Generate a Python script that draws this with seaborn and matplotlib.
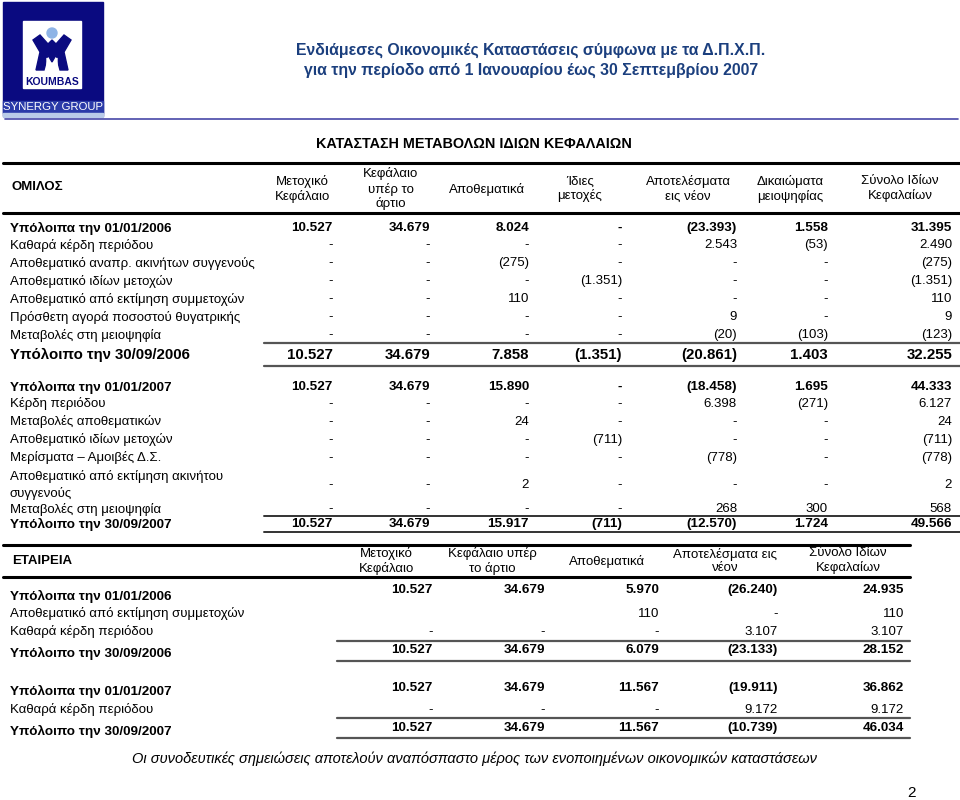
import numpy as np
import pandas as pd
import seaborn as sns
import matplotlib.pyplot as plt
from matplotlib.patches import Rectangle, Circle, Polygon

sns.set_theme(style="white")
plt.rcParams["font.family"] = ["Liberation Sans", "DejaVu Sans"]
plt.rcParams["text.color"] = "black"

# ---------------- data ----------------
title_lines = ["Ενδιάμεσες Οικονομικές Καταστάσεις σύμφωνα με τα Δ.Π.Χ.Π.",
               "για την περίοδο από 1 Ιανουαρίου έως 30 Σεπτεμβρίου 2007"]
table_title = "ΚΑΤΑΣΤΑΣΗ ΜΕΤΑΒΟΛΩΝ ΙΔΙΩΝ ΚΕΦΑΛΑΙΩΝ"
footer = "Οι συνοδευτικές σημειώσεις αποτελούν αναπόσπαστο μέρος των ενοποιημένων οικονομικών καταστάσεων"

group_cols = ["Μετοχικό\nΚεφάλαιο", "Κεφάλαιο\nυπέρ το\nάρτιο", "Αποθεματικά", "Ίδιες\nμετοχές",
              "Αποτελέσματα\nεις νέον", "Δικαιώματα\nμειοψηφίας", "Σύνολο Ιδίων\nΚεφαλαίων"]

group_labels_2006 = ["Υπόλοιπα την 01/01/2006", "Καθαρά κέρδη περιόδου",
                     "Αποθεματικό αναπρ. ακινήτων συγγενούς", "Αποθεματικό ιδίων μετοχών",
                     "Αποθεματικό από εκτίμηση συμμετοχών", "Πρόσθετη αγορά ποσοστού θυγατρικής",
                     "Μεταβολές στη μειοψηφία", "Υπόλοιπο την 30/09/2006"]
group_values_2006 = [
    [10527, 34679, 8024, 0, -23393, 1558, 31395],
    [0, 0, 0, 0, 2543, -53, 2490],
    [0, 0, -275, 0, 0, 0, -275],
    [0, 0, 0, -1351, 0, 0, -1351],
    [0, 0, 110, 0, 0, 0, 110],
    [0, 0, 0, 0, 9, 0, 9],
    [0, 0, 0, 0, -20, -103, -123],
    [10527, 34679, 7858, -1351, -20861, 1403, 32255],
]

group_labels_2007 = ["Υπόλοιπα την 01/01/2007", "Κέρδη περιόδου", "Μεταβολές αποθεματικών",
                     "Αποθεματικό ιδίων μετοχών", "Μερίσματα – Αμοιβές Δ.Σ.",
                     "Αποθεματικό από εκτίμηση ακινήτου\nσυγγενούς", "Μεταβολές στη μειοψηφία",
                     "Υπόλοιπο την 30/09/2007"]
group_values_2007 = [
    [10527, 34679, 15890, 0, -18458, 1695, 44333],
    [0, 0, 0, 0, 6398, -271, 6127],
    [0, 0, 24, 0, 0, 0, 24],
    [0, 0, 0, -711, 0, 0, -711],
    [0, 0, 0, 0, -778, 0, -778],
    [0, 0, 2, 0, 0, 0, 2],
    [0, 0, 0, 0, 268, 300, 568],
    [10527, 34679, 15917, -711, -12570, 1724, 49566],
]

company_cols = ["Μετοχικό\nΚεφάλαιο", "Κεφάλαιο υπέρ\nτο άρτιο", "Αποθεματικά",
                "Αποτελέσματα εις\nνέον", "Σύνολο Ιδίων\nΚεφαλαίων"]
company_labels = ["Υπόλοιπα την 01/01/2006", "Αποθεματικό από εκτίμηση συμμετοχών",
                  "Καθαρά κέρδη περιόδου", "Υπόλοιπο την 30/09/2006",
                  "Υπόλοιπα την 01/01/2007", "Καθαρά κέρδη περιόδου", "Υπόλοιπο την 30/09/2007"]
company_values = [
    [10527, 34679, 5970, -26240, 24935],
    [None, None, 110, 0, 110],
    [0, 0, 0, 3107, 3107],
    [10527, 34679, 6079, -23133, 28152],
    [10527, 34679, 11567, -19911, 36862],
    [0, 0, 0, 9172, 9172],
    [10527, 34679, 11567, -10739, 46034],
]


def fmt(v):
    if v is None:
        return ""
    if v == 0:
        return "-"
    s = f"{abs(v):,}".replace(",", ".")
    return f"({s})" if v < 0 else s


# ---------------- layout ----------------
fig = plt.figure(figsize=(9.6, 8), dpi=100)
ax = fig.add_axes([0, 0, 1, 1])
ax.set_xlim(0, 960)
ax.set_ylim(800, 0)
ax.axis("off")

FS = 9.5
FSB = 9.7
navy = "#0a0a80"
title_blue = "#1b3f7e"

# logo
ax.add_patch(Rectangle((3, 2), 100, 114, color=navy, zorder=1))
ax.add_patch(Rectangle((3, 101), 100, 12, color="#2a3aa8", zorder=1))
ax.add_patch(Rectangle((3, 113), 100, 4, color="#b9cbe8", zorder=1))
ax.add_patch(Rectangle((23, 21), 58, 67, color="white", zorder=2))
ax.add_patch(Circle((52, 33), 5, color="#8fb4e6", zorder=3))
ax.add_patch(Polygon([[33, 40], [40, 35], [48, 44], [52, 40], [56, 44], [64, 35], [71, 40],
                      [64, 52], [68, 70], [60, 70], [56, 55], [52, 62], [48, 55], [44, 70],
                      [36, 70], [40, 52]], color=navy, zorder=3))
ax.add_patch(Polygon([[47, 58], [52, 66], [57, 58], [57, 72], [47, 72]], color="white", zorder=4))
ax.text(52, 82, "KOUMBAS", ha="center", va="center", fontsize=7.5, fontweight="bold", color=navy, zorder=5)
ax.text(53, 107, "SYNERGY GROUP", ha="center", va="center", fontsize=8.2, color="white", zorder=5)
ax.plot([5, 958], [119, 119], color="#4848a8", lw=1.2)

# titles
for y, t in zip([50, 70], title_lines):
    ax.text(531, y, t, ha="center", va="center", fontsize=11.4, fontweight="bold", color=title_blue)
ax.text(474, 144, table_title, ha="center", va="center", fontsize=10.4, fontweight="bold")

# ---- group table ----
g_center = [302, 391, 487, 580, 688, 790, 900]
g_right = [333, 430, 529, 622, 737, 828, 952]
ax.plot([3, 960], [163, 163], color="black", lw=2.2)
ax.plot([3, 960], [213, 213], color="black", lw=2.2)
ax.text(12, 187, "ΟΜΙΛΟΣ", ha="left", va="center", fontsize=FS, fontweight="bold")
for x, h in zip(g_center, group_cols):
    ax.text(x, 189, h, ha="center", va="center", fontsize=FS, linespacing=1.2)

y06 = [228, 245, 263, 281, 299, 317, 335, 355]
for i, (lab, vals, y) in enumerate(zip(group_labels_2006, group_values_2006, y06)):
    first, last = i == 0, i == len(y06) - 1
    fs = 10.8 if last else (FSB if first else FS)
    w = "bold" if (first or last) else "normal"
    ax.text(10, y, lab, ha="left", va="center", fontsize=fs, fontweight=w)
    for x, v in zip(g_right, vals):
        ax.text(x, y, fmt(v), ha="right", va="center", fontsize=fs, fontweight=w)
ax.plot([264, 960], [343, 343], color="#555555", lw=1.6)
ax.plot([264, 960], [366, 366], color="#555555", lw=1.6)

y07 = [387, 404, 422, 440, 458, 485, 509, 524]
for i, (lab, vals, y) in enumerate(zip(group_labels_2007, group_values_2007, y07)):
    first, last = i == 0, i == len(y07) - 1
    w = "bold" if (first or last) else "normal"
    fs = FSB if (first or last) else FS
    ax.text(10, y, lab, ha="left", va="center", fontsize=fs, fontweight=w, linespacing=1.35)
    for x, v in zip(g_right, vals):
        ax.text(x, y, fmt(v), ha="right", va="center", fontsize=fs, fontweight=w)
ax.plot([264, 960], [516, 516], color="#333333", lw=1.4)
ax.plot([264, 960], [532, 532], color="#333333", lw=1.4)

# ---- company table ----
c_center = [386, 492, 607, 725, 848]
c_right = [433, 545, 659, 778, 904]
ax.plot([3, 910], [545, 545], color="black", lw=2.2)
ax.plot([3, 910], [577, 577], color="black", lw=2.2)
ax.text(12, 561, "ΕΤΑΙΡΕΙΑ", ha="left", va="center", fontsize=FS, fontweight="bold")
for x, h in zip(c_center, company_cols):
    ax.text(x, 561, h, ha="center", va="center", fontsize=FS, linespacing=1.2)

c_label_y = [596, 614, 632, 653, 691, 710, 731]
c_val_y = [590, 614, 632, 650, 688, 710, 728]
c_bold = [True, False, False, True, True, False, True]
for lab, vals, yl, yv, b in zip(company_labels, company_values, c_label_y, c_val_y, c_bold):
    w = "bold" if b else "normal"
    fs = FSB if b else FS
    ax.text(10, yl, lab, ha="left", va="center", fontsize=fs, fontweight=w)
    for x, v in zip(c_right, vals):
        ax.text(x, yv, fmt(v), ha="right", va="center", fontsize=fs, fontweight=w)
for y in [641, 661, 718, 738]:
    ax.plot([337, 910], [y, y], color="#555555", lw=1.6)

ax.text(474, 759, footer, ha="center", va="center", fontsize=10.5, style="italic")
ax.text(912, 793, "2", ha="center", va="center", fontsize=11)

fig.savefig("out.png", dpi=100)
